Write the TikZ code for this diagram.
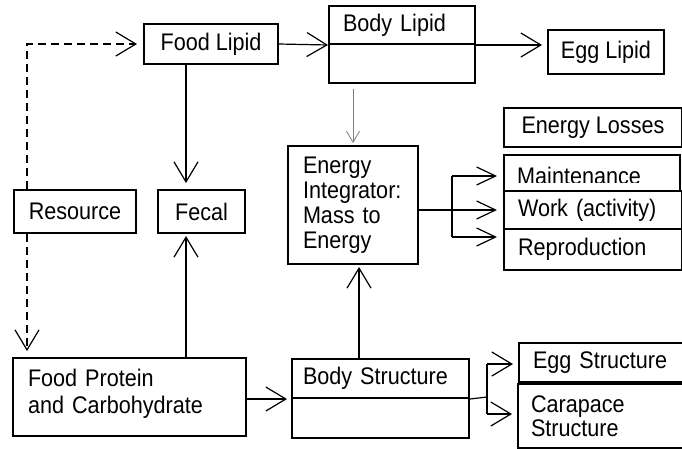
\documentclass[tikz,border=0pt]{standalone}
\usepackage{fontspec}
\setmainfont{Liberation Sans}[FakeStretch=0.9]
\usetikzlibrary{arrows.meta}
\begin{document}
\begin{tikzpicture}[x=1pt,y=-1pt,
  box/.style={draw, line width=2pt, inner sep=0pt, anchor=north west, align=center,
    font=\fontsize{24pt}{25pt}\selectfont},
  lbox/.style={box, align=left},
  wire/.style={line width=1.2pt},
  conn/.style={wire, -{Straight Barb[length=20pt,width=24pt]}},
  conns/.style={wire, -{Straight Barb[length=19pt,width=18pt]}},
  dconn/.style={conn, dash pattern=on 8pt off 5pt},
  gconn/.style={line width=0.8pt, draw=gray, -{Straight Barb[length=11pt,width=13pt]}}
]
\clip (0,0) rectangle (682,448);
\fill[white] (0,0) rectangle (682,448);

% top row
\node[box, minimum width=134pt, minimum height=40pt] (fl) at (143,23) {Food Lipid};
\node[lbox, minimum width=146pt, minimum height=38pt, inner xsep=14pt, text width=118pt] (bl) at (328,5) {Body Lipid};
\node[box, minimum width=146pt, minimum height=39pt] (bll) at (328,43) {};
\node[box, minimum width=116pt, minimum height=44pt] (egl) at (547,29) {Egg Lipid};

% middle
\node[box, minimum width=122pt, minimum height=43pt] (res) at (13,189) {Resource};
\node[box, minimum width=87pt, minimum height=43pt] (fec) at (157,189) {Fecal};
\node[lbox, minimum width=130pt, minimum height=118pt, inner xsep=15pt, text width=100pt] (ei) at (287,145) {Energy\\Integrator:\\Mass to\\Energy};

\node[box, minimum width=178pt, minimum height=39pt] (el) at (503,107) {Energy Losses};
\node[box, minimum width=176pt, minimum height=36pt] (mnt) at (503,154) {};
\begin{scope}
  \clip (503,154) rectangle (679,182);
  \node[anchor=base west, inner sep=0pt, font=\fontsize{24pt}{25pt}\selectfont] (mtxt) at (517,184) {Maintenance};
\end{scope}
\node[lbox, fill=white, minimum width=178pt, minimum height=38pt, inner xsep=14pt, text width=150pt] (wk) at (503,190) {Work (activity)};
\node[lbox, minimum width=178pt, minimum height=41pt, inner xsep=14pt, text width=150pt] (rep) at (503,228) {Reproduction};

% bottom
\node[lbox, minimum width=233pt, minimum height=78pt, inner xsep=15pt, text width=203pt,
  text depth=37.5pt, font=\fontsize{24pt}{27pt}\selectfont] (fp) at (12,357) {Food Protein\\and Carbohydrate};
\node[lbox, minimum width=177pt, minimum height=39pt, inner xsep=11pt, text width=155pt] (bs) at (291,358) {Body Structure};
\node[box, minimum width=177pt, minimum height=40pt] (bsl) at (291,397) {};
\node[lbox, minimum width=190pt, minimum height=39pt, inner xsep=14pt, text width=162pt] (es) at (518,342) {Egg Structure};
\node[lbox, minimum width=190pt, minimum height=64pt, inner xsep=13pt, text width=164pt,
  font=\fontsize{24pt}{24pt}\selectfont] (cs) at (517,383) {Carapace\\Structure};

% helper coordinates
\coordinate (xa) at (27,0);
\coordinate (xb) at (186,0);
\coordinate (xc) at (359,0);
\coordinate (eo) at (452,210);
\coordinate (m1) at (452,176);
\coordinate (r1) at (452,237);
\coordinate (so) at (487,397);
\coordinate (s1) at (487,364);
\coordinate (s2) at (487,414);

% connectors
\draw[dconn, shorten >=6pt] (res.north -| xa) |- (fl.west);
\draw[dconn, shorten >=6pt] (res.south -| xa) -- (fp.north -| xa);
\draw[conn, shorten >=6pt] (fl.south -| xb) -- (fec.north -| xb);
\draw[conn, shorten >=2pt] (fp.north -| xb) -- (fec.south -| xb);
\draw[conn] (fl.east) -- (bl.south west);
\draw[conn, shorten >=5pt] (bl.south east) -- (egl.west |- bl.south east);
\draw[gconn, shorten <=5pt, shorten >=2pt] (bll.south -| ei.north) -- (ei.north);
\draw[conn, shorten >=2pt] (bs.north -| xc) -- (ei.south -| xc);
\draw[conn, shorten >=4pt] (fp.east |- bs.south west) -- (bs.south west);

\draw[wire] (bs.south east) -- (so);
\draw[wire] (s1) -- (s2);
\draw[conn, shorten >=5pt] (s1) -- (es.west |- s1);
\draw[conn, shorten >=5pt] (s2) -- (cs.west |- s2);

\draw[conns, shorten >=6pt] (ei.east |- eo) -- (wk.west |- eo);
\draw[wire] (m1) -- (r1);
\draw[conns, shorten >=6pt] (m1) -- (mnt.west |- m1);
\draw[conns, shorten >=6pt] (r1) -- (rep.west |- r1);
\end{tikzpicture}
\end{document}
